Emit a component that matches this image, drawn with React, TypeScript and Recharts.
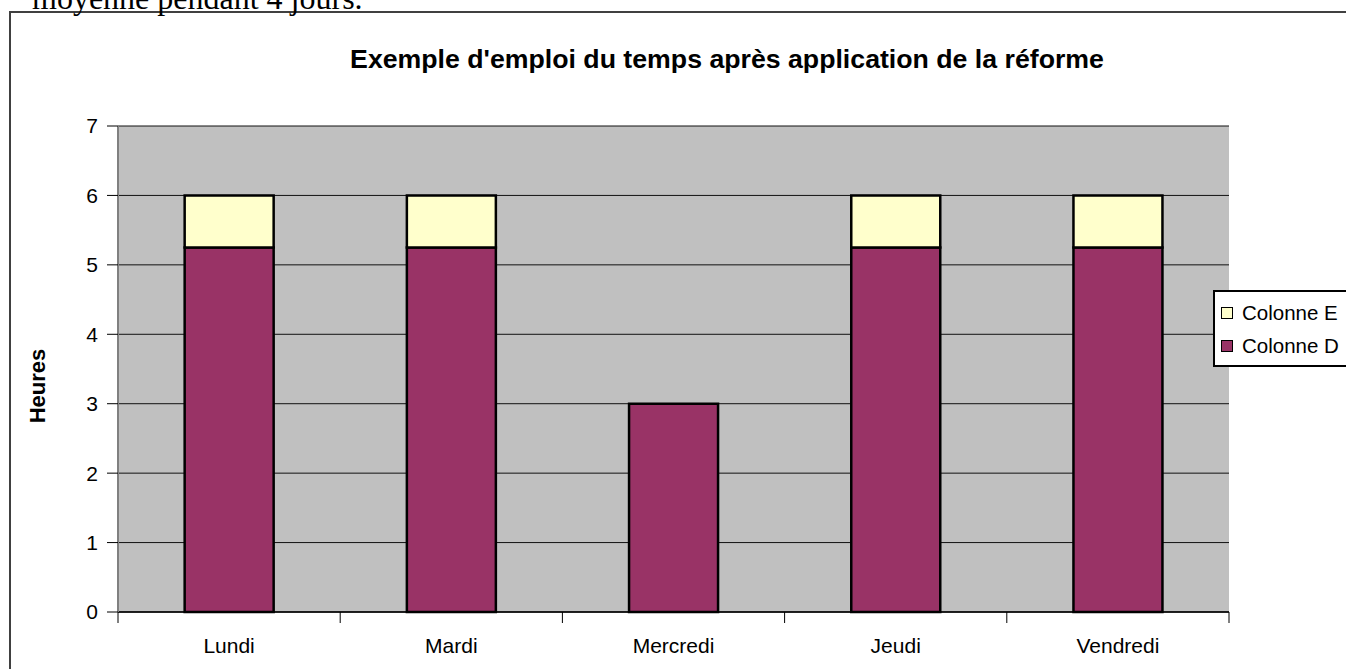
import { BarChart, Bar, XAxis, YAxis, CartesianGrid, Legend, Label } from "recharts";

const days = ["Lundi", "Mardi", "Mercredi", "Jeudi", "Vendredi"];
const colonneD = [5.25, 5.25, 3, 5.25, 5.25];
const colonneE = [0.75, 0.75, 0, 0.75, 0.75];
const hourTicks = [0, 1, 2, 3, 4, 5, 6, 7];

const data = days.map((day, i) => ({ day, D: colonneD[i], E: colonneE[i] }));

const SANS = "'Liberation Sans', Arial, sans-serif";

// Excel puts the x tick marks between categories, not under them
function DayTick(props: any) {
  const { x, y, payload, index, visibleTicksCount, width } = props;
  const half = payload?.offset ?? width / visibleTicksCount / 2;
  return (
    <g>
      <line x1={x - half} y1={y} x2={x - half} y2={y + 11} stroke="#000" />
      {index === visibleTicksCount - 1 && (
        <line x1={x + half} y1={y} x2={x + half} y2={y + 11} stroke="#000" />
      )}
      <text x={x} y={y + 26} dy="0.71em" textAnchor="middle" fontSize={21} fontFamily={SANS} fill="#000">
        {payload.value}
      </text>
    </g>
  );
}

function LegendBox({ payload }: any) {
  const items = [...(payload ?? [])].reverse();
  return (
    <div
      style={{
        position: "relative",
        width: 160,
        height: 77,
        border: "2px solid #000",
        background: "#fff",
        boxSizing: "border-box",
        fontFamily: SANS,
        fontSize: 20.5,
      }}
    >
      {items.map((it: any, i: number) => (
        <div key={it.value} style={{ position: "absolute", left: 6, top: 11 + i * 33, display: "flex", alignItems: "center", lineHeight: "20px" }}>
          <span style={{ width: 12, height: 12, background: it.color, border: "1px solid #000", boxSizing: "border-box", display: "inline-block" }} />
          <span style={{ marginLeft: 9, color: "#000" }}>{it.value}</span>
        </div>
      ))}
    </div>
  );
}

export default function App() {
  return (
    <div style={{ position: "fixed", left: 0, top: 0, width: 1346, height: 669, background: "#fff", overflow: "hidden" }}>
      <svg width={1346} height={669} style={{ position: "absolute", left: 0, top: 0 }}>
        <rect x={10} y={12} width={1500} height={700} fill="#fff" stroke="#404040" strokeWidth={2} />
        <text x={32} y={9} fontFamily="'Liberation Serif', 'Times New Roman', serif" fontSize={32} fill="#000">
          moyenne pendant 4 jours.
        </text>
        <text x={727} y={68} textAnchor="middle" fontFamily={SANS} fontWeight="bold" fontSize={26.7} fill="#000">
          Exemple d'emploi du temps après application de la réforme
        </text>
      </svg>
      <div style={{ position: "absolute", left: 0, top: 0 }}>
        <BarChart
          width={1346}
          height={669}
          data={data}
          margin={{ top: 126, right: 117, left: 0, bottom: 0 }}
          barCategoryGap="30%"
        >
          <CartesianGrid vertical={false} stroke="#111" fill="#c0c0c0" fillOpacity={1} />
          <XAxis
            dataKey="day"
            height={57}
            tickLine={false}
            tickSize={0}
            tickMargin={0}
            axisLine={{ stroke: "#000", strokeWidth: 1.5 }}
            tick={<DayTick />}
            interval={0}
          />
          <YAxis
            width={118}
            domain={[0, 7]}
            ticks={hourTicks}
            interval={0}
            tickSize={11}
            tickMargin={9}
            tickLine={{ stroke: "#000" }}
            axisLine={{ stroke: "#808080", strokeWidth: 2 }}
            tick={{ fontSize: 21, fontFamily: SANS, fill: "#000" }}
          >
            <Label
              content={(p: any) => {
                const vb = p.viewBox;
                const cx = vb.x + 37;
                const cy = vb.y + vb.height / 2 + 17;
                return (
                  <text
                    x={cx}
                    y={cy}
                    transform={`rotate(-90 ${cx} ${cy})`}
                    textAnchor="middle"
                    dominantBaseline="central"
                    fontFamily={SANS}
                    fontWeight="bold"
                    fontSize={22}
                    fill="#000"
                  >
                    Heures
                  </text>
                );
              }}
            />
          </YAxis>
          <YAxis
            yAxisId="r"
            orientation="right"
            width={0}
            domain={[0, 7]}
            tick={false}
            tickLine={false}
            axisLine={{ stroke: "#808080", strokeWidth: 2 }}
          />
          <Legend
            layout="horizontal"
            align="center"
            verticalAlign="middle"
            content={<LegendBox />}
            wrapperStyle={{ left: 1213, top: 290, width: 160, height: 77 }}
          />
          <Bar dataKey="D" name="Colonne D" stackId="h" fill="#993366" stroke="#000" strokeWidth={2.5} isAnimationActive={false} />
          <Bar dataKey="E" name="Colonne E" stackId="h" fill="#FFFFCC" stroke="#000" strokeWidth={2.5} isAnimationActive={false} />
        </BarChart>
      </div>
    </div>
  );
}
